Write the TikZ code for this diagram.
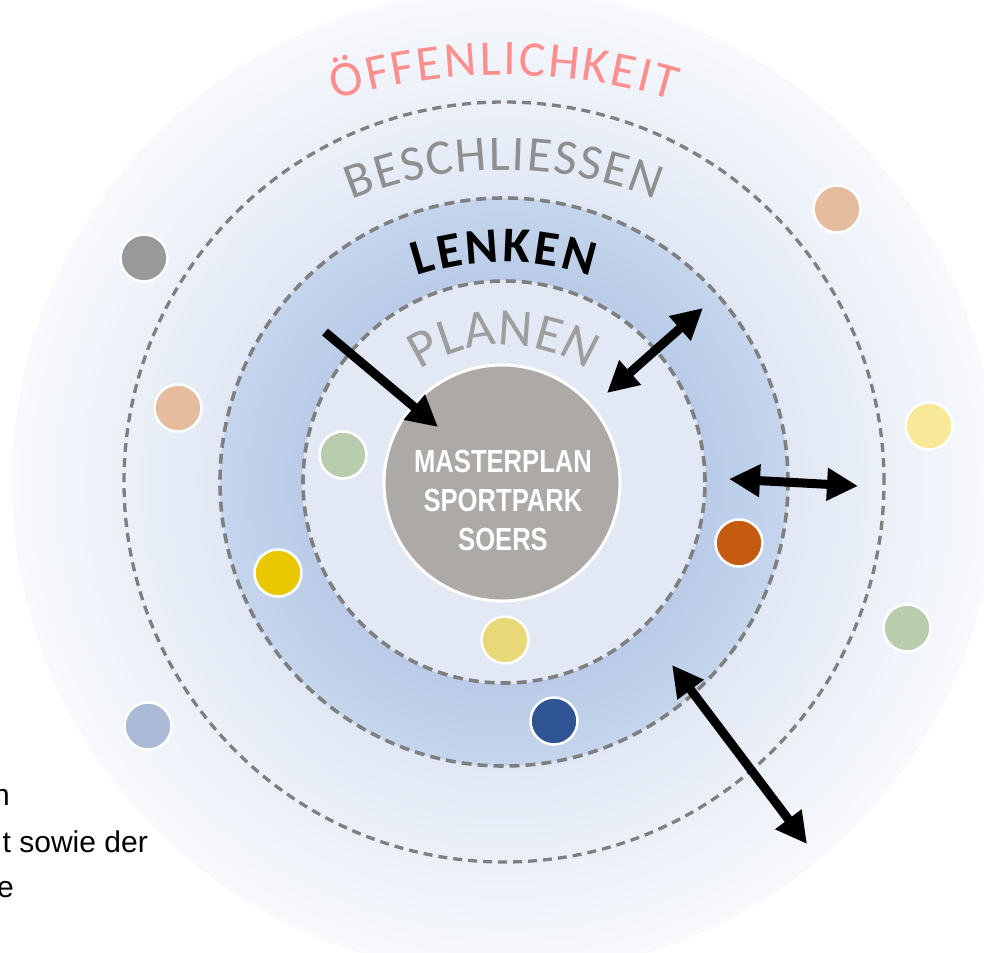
\documentclass[tikz,border=0pt]{standalone}
\usepackage{fontspec}
\setmainfont{Liberation Sans}
\newfontfamily\calfont{Carlito}
\newfontfamily\narrowfont[FakeStretch=0.8]{Liberation Sans}
\usetikzlibrary{arrows.meta}
\definecolor{ringA}{HTML}{E1E8F5}
\definecolor{ringB}{HTML}{EBF0F8}
\definecolor{ringC}{HTML}{F8F9FC}
\definecolor{lenkA}{HTML}{B9CBE8}
\definecolor{lenkB}{HTML}{C5D5EC}
\definecolor{planfill}{HTML}{E2E9F5}
\definecolor{dashcol}{HTML}{7F7F7F}
\definecolor{mastercol}{HTML}{ADA9A7}
\definecolor{oefcol}{HTML}{FF8F8F}
\definecolor{beschcol}{HTML}{8F8F8F}
\definecolor{plancol}{HTML}{9E9E9E}
\definecolor{dGray}{HTML}{999999}
\definecolor{dPeach}{HTML}{E6BC9E}
\definecolor{dGreen}{HTML}{B8CCAE}
\definecolor{dYellow}{HTML}{EAC800}
\definecolor{dBlueGray}{HTML}{A9B9D6}
\definecolor{dPaleYellow}{HTML}{E8D878}
\definecolor{dDarkBlue}{HTML}{2E5493}
\definecolor{dOrange}{HTML}{C55A11}
\definecolor{dLightYellow}{HTML}{F8E999}
% 25bp = radius of the shaded circle
\pgfdeclareradialshading{outershade}{\pgfpoint{0bp}{0bp}}{color(0bp)=(ringA); color(14.5bp)=(ringA); color(19.3bp)=(ringB); color(25bp)=(ringC); color(50bp)=(ringC)}
\pgfdeclareradialshading{lenkshade}{\pgfpoint{0bp}{0bp}}{color(0bp)=(lenkA); color(17.7bp)=(lenkA); color(25bp)=(lenkB); color(50bp)=(lenkB)}
\tikzset{
  ringdash/.style={draw=dashcol, line width=3.6pt, dash pattern=on 10pt off 6pt},
  outerdash/.style={draw=dashcol, line width=3.3pt, dash pattern=on 9pt off 6pt},
  dot/.style={circle, draw=white, line width=2.5pt, minimum size=47pt, inner sep=0pt},
  bigarrow/.style={line width=9pt, -{Triangle[length=31pt,width=31pt]}},
  dblarrow/.style={line width=9pt, {Triangle[length=31pt,width=31pt]}-{Triangle[length=31pt,width=31pt]}},
  sidetext/.style={anchor=base east, inner sep=0pt, font=\fontsize{30}{36}\selectfont},
  arcletter/.style={anchor=base, inner sep=0pt, outer sep=0pt}
}
% #1 name prefix, #2 centre (x,y), #3 radius, #4 font and colour, #5 font size,
% #6 extra gap (pt), #7 list letter/advance width in em
\newcommand\curvetext[7]{%
  \gdef\ctwidth{0}%
  \foreach \ch/\w in {#7}{%
    \pgfmathsetmacro\cttmp{\ctwidth+\w*#5+#6}%
    \xdef\ctwidth{\cttmp}%
  }%
  \pgfmathsetmacro\ctstart{90+(\ctwidth-#6)/#3*90/pi}%
  \xdef\ctstart{\ctstart}%
  \gdef\ctpos{0}%
  \foreach \ch/\w [count=\ci] in {#7}{%
    \pgfmathsetmacro\ctang{\ctstart-(\ctpos+\w*#5/2)/#3*180/pi}%
    \node[arcletter, rotate=\ctang-90, font=#4] (#1\ci) at ([shift={#2}]\ctang:#3) {\ch};
    \pgfmathsetmacro\cttmp{\ctpos+\w*#5+#6}%
    \xdef\ctpos{\cttmp}%
  }%
}
\begin{document}
\begin{tikzpicture}[x=1pt,y=1pt]
\useasboundingbox (0,0) rectangle (984,-952);
\clip (0,0) rectangle (984,-952);
% rings
\path[shading=outershade] (504,-482) circle[radius=492];
\path[shading=lenkshade] (504,-482) circle[radius=284];
\path[fill=planfill, draw=white!50!lenkA, line width=2pt] (504,-482) circle[radius=201];
\path[outerdash] (504,-482) circle[radius=380];
\path[ringdash] (504,-482) circle[radius=284];
\path[ringdash] (504,-482) circle[radius=201];
% curved labels
\curvetext{oef}{(504,-657)}{582}{\calfont\fontsize{50}{50}\selectfont\color{oefcol}}{50}{2.4}
  {Ö/0.662,F/0.459,F/0.459,E/0.488,N/0.646,L/0.420,I/0.252,C/0.533,H/0.623,K/0.520,E/0.488,I/0.252,T/0.487}
\curvetext{bes}{(504,-576)}{406}{\calfont\fontsize{50}{50}\selectfont\color{beschcol}}{50}{1.7}
  {B/0.544,E/0.488,S/0.459,C/0.533,H/0.623,L/0.420,I/0.252,E/0.488,S/0.459,S/0.459,E/0.488,N/0.646}
\curvetext{len}{(504,-537)}{275}{\calfont\bfseries\fontsize{50}{50}\selectfont\color{black}}{50}{2.6}
  {L/0.423,E/0.503,N/0.659,K/0.538,E/0.503,N/0.659}
\curvetext{pla}{(504,-496)}{151}{\calfont\fontsize{53}{53}\selectfont\color{plancol}}{53}{0.6}
  {P/0.517,L/0.420,A/0.579,N/0.646,E/0.488,N/0.646}
% centre
\node[circle, fill=mastercol, draw=white, line width=3pt, minimum size=236pt, inner sep=0pt]
  (master) at (502,-483) {};
\node[align=center, text=white, inner sep=0pt, font=\narrowfont\bfseries\fontsize{32}{39}\selectfont]
  (mastertext) at (503,-500) {MASTERPLAN\\SPORTPARK\\SOERS};
% dots
\node[dot, fill=dGray] (d1) at (144,-258) {};
\node[dot, fill=dPeach] (d2) at (178,-408) {};
\node[dot, fill=dGreen] (d3) at (343,-455) {};
\node[dot, fill=dYellow] (d4) at (278,-573) {};
\node[dot, fill=dBlueGray] (d5) at (148,-726) {};
\node[dot, fill=dPaleYellow] (d6) at (505,-640) {};
\node[dot, fill=dDarkBlue] (d7) at (554,-721) {};
\node[dot, fill=dOrange] (d8) at (739,-543) {};
\node[dot, fill=dPeach] (d9) at (837,-209) {};
\node[dot, fill=dLightYellow] (d10) at (929,-426) {};
\node[dot, fill=dGreen] (d11) at (907,-628) {};
% arrows
\coordinate (a1s) at (325,-332);
\coordinate (a1e) at (438,-427);
\coordinate (a2s) at (607,-393);
\coordinate (a2e) at (703,-308);
\coordinate (a3s) at (729,-479);
\coordinate (a3e) at (858,-486);
\coordinate (a4s) at (672,-665);
\coordinate (a4e) at (807,-844);
\draw[bigarrow] (a1s) -- (a1e);
\draw[dblarrow] (a2s) -- (a2e);
\draw[dblarrow] (a3s) -- (a3e);
\draw[dblarrow] (a4s) -- (a4e);
% side text
\node[sidetext] (s1) at (10,-805) {n};
\node[sidetext] (s2) at (148,-852) {t sowie der};
\node[sidetext] (s3) at (14,-897) {e};
\end{tikzpicture}
\end{document}
